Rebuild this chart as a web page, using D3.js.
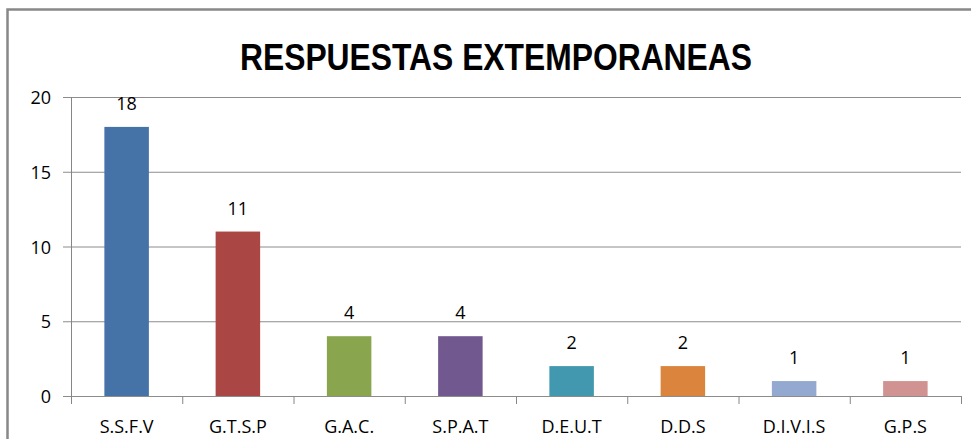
<!DOCTYPE html>
<html><head><meta charset="utf-8">
<script src="https://cdn.jsdelivr.net/npm/d3@7"></script>
<style>body{margin:0;background:#fff}svg{display:block}</style>
</head><body>
<script>
const categories = ["S.S.F.V","G.T.S.P","G.A.C.","S.P.A.T","D.E.U.T","D.D.S","D.I.V.I.S","G.P.S"];
const values = [18,11,4,4,2,2,1,1];
const colors = ["#4572A7","#AA4643","#89A54E","#71588F","#4198AF","#DB843D","#93A9CF","#D19392"];
const yTicks = [0,5,10,15,20];
const title = "RESPUESTAS EXTEMPORANEAS";

(function(){
const W=971,H=439;
const svg=d3.select("body").append("svg").attr("width",W).attr("height",H);
svg.append("rect").attr("x",7.5).attr("y",9.5).attr("width",980).attr("height",460)
  .attr("fill","#fff").attr("stroke","#888").attr("stroke-width",2.5);

const pL=71,pR=961,pT=97,pB=396;
const x=d3.scaleBand().domain(categories).range([pL,pR]).paddingInner(0.6).paddingOuter(0.3);
const xb=d3.scaleBand().domain(categories).range([pL,pR]);
const y=d3.scaleLinear().domain([0,20]).range([pB,pT]);
const font="'Open Sans', sans-serif";

svg.append("g").selectAll("line").data(yTicks).join("line")
  .attr("x1",pL-8).attr("x2",pR).attr("y1",d=>y(d)+0.5).attr("y2",d=>y(d)+0.5)
  .attr("stroke","#8c8c8c").attr("stroke-width",1);
svg.append("line").attr("x1",pL+0.5).attr("x2",pL+0.5).attr("y1",pT).attr("y2",pB+8)
  .attr("stroke","#868686");
svg.append("g").selectAll("line").data(categories).join("line")
  .attr("x1",d=>xb(d)+xb.bandwidth()+0.5).attr("x2",d=>xb(d)+xb.bandwidth()+0.5)
  .attr("y1",pB).attr("y2",pB+8).attr("stroke","#868686");

svg.append("g").selectAll("text").data(yTicks).join("text")
  .attr("x",pL-20).attr("y",d=>y(d)+7).attr("text-anchor","end")
  .attr("font-family",font).attr("font-size",18).attr("fill","#000").text(d=>d);

svg.append("g").selectAll("rect").data(values).join("rect")
  .attr("x",(d,i)=>x(categories[i])).attr("width",x.bandwidth())
  .attr("y",d=>y(d)).attr("height",d=>y(0)-y(d)).attr("fill",(d,i)=>colors[i]);

svg.append("g").selectAll("text").data(values).join("text")
  .attr("x",(d,i)=>x(categories[i])+x.bandwidth()/2).attr("y",d=>y(d)-17)
  .attr("text-anchor","middle").attr("font-family",font).attr("font-size",18).attr("fill","#000").text(d=>d);

svg.append("g").selectAll("text").data(categories).join("text")
  .attr("x",d=>xb(d)+xb.bandwidth()/2).attr("y",433)
  .attr("text-anchor","middle").attr("font-family",font).attr("font-size",18).attr("fill","#000")
  .text(d=>d);

svg.append("text").attr("x",496).attr("y",70).attr("text-anchor","middle")
  .attr("font-family","'Liberation Sans', Arial, sans-serif").attr("font-weight","bold")
  .attr("font-size",37).attr("textLength",512).attr("lengthAdjust","spacingAndGlyphs").text(title);
})();
</script>
</body></html>
